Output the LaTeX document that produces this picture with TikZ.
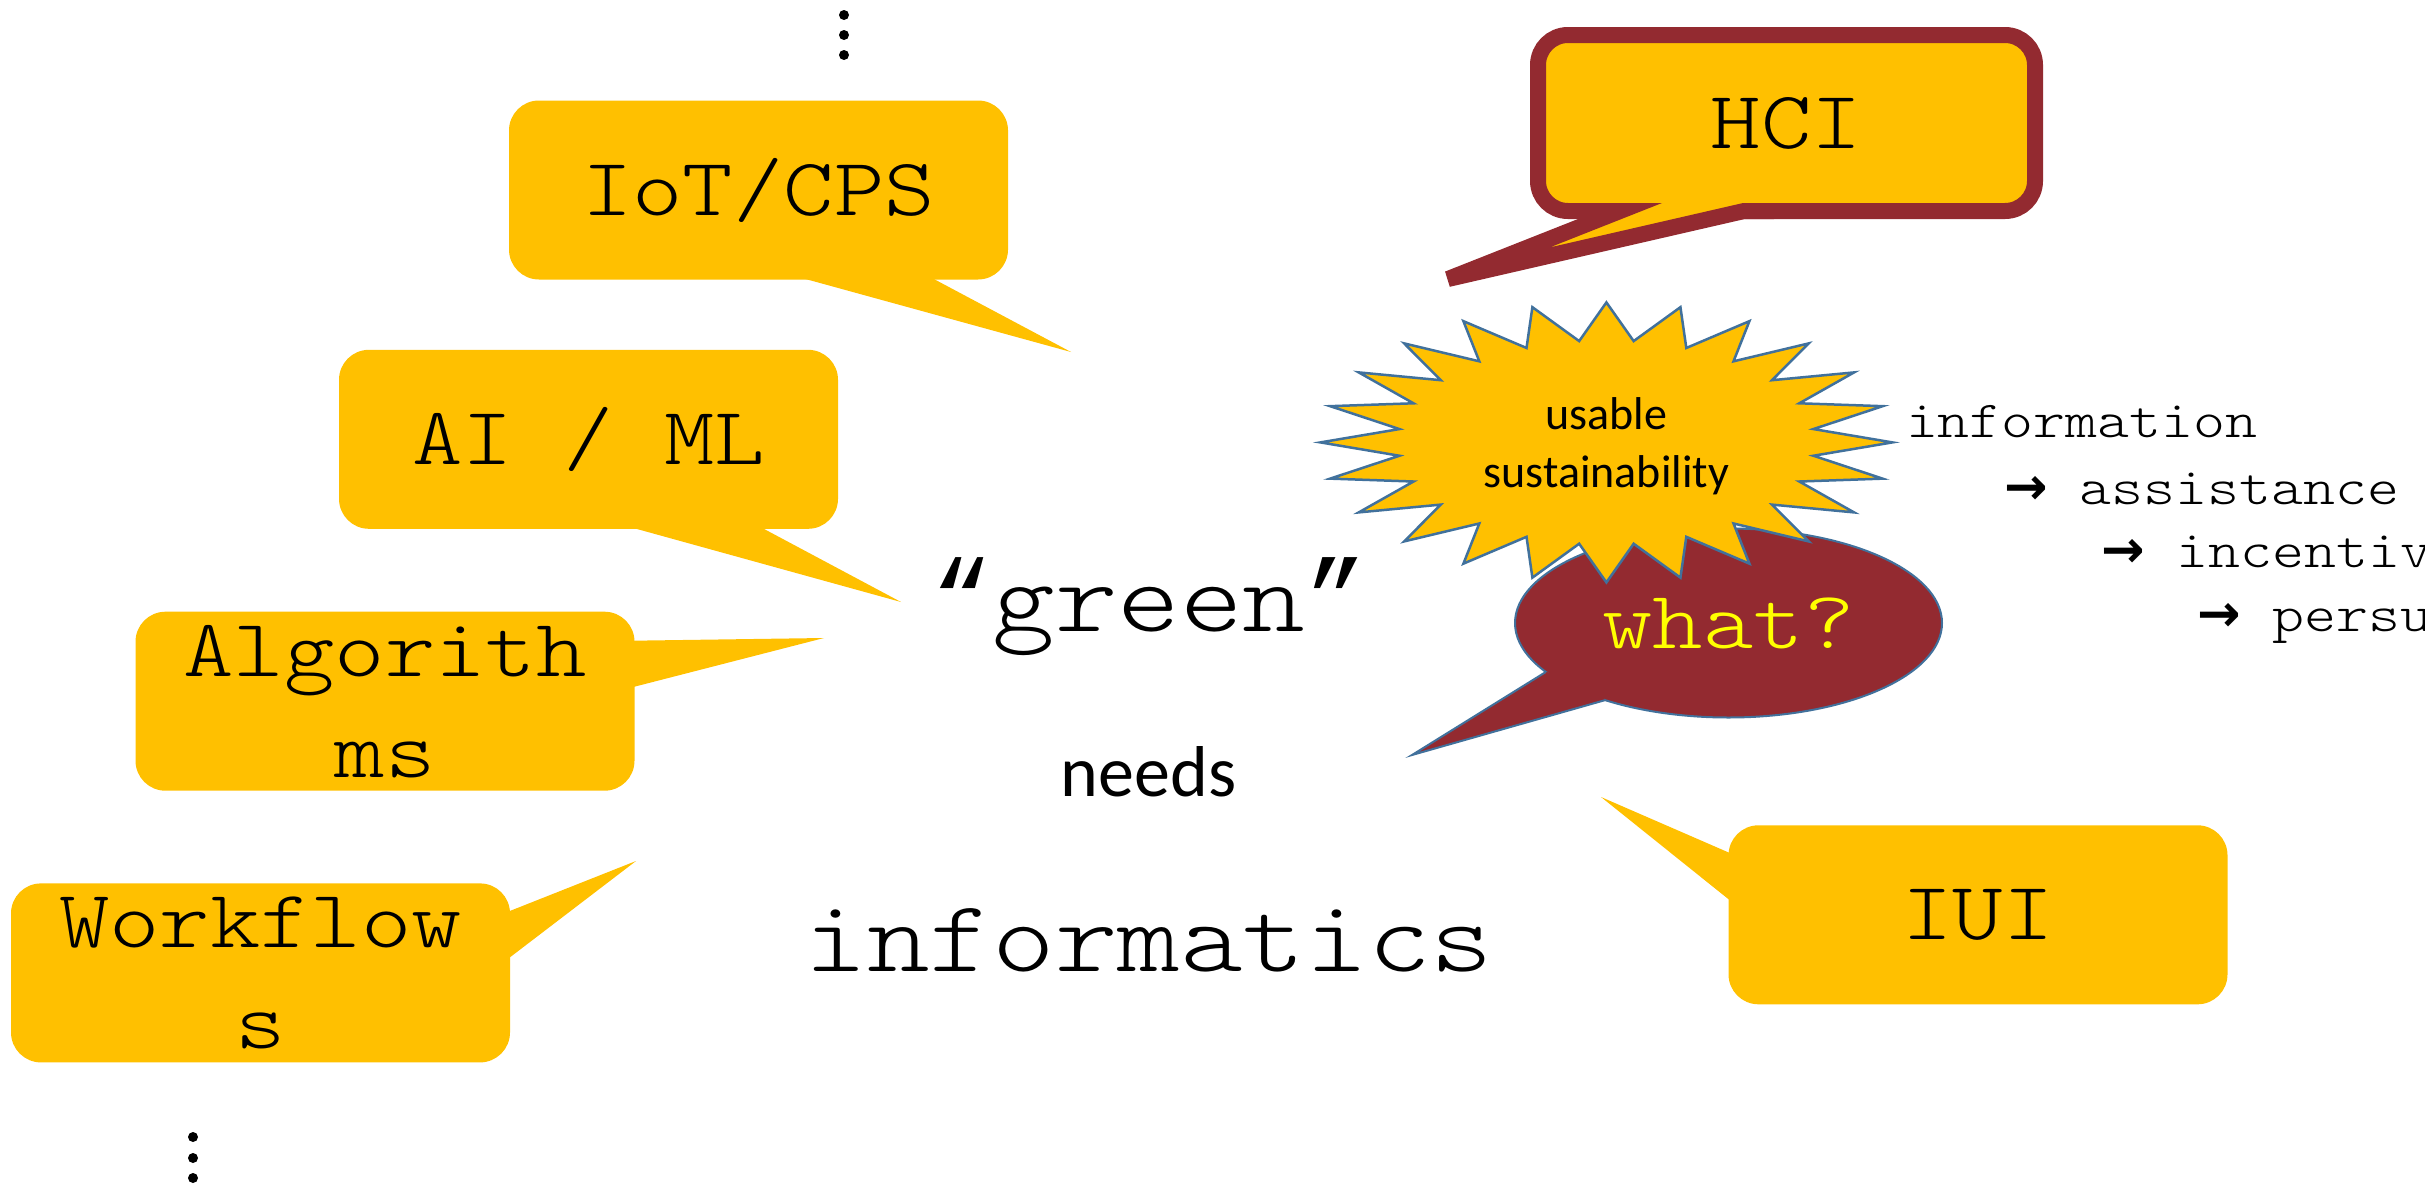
\documentclass[tikz,border=0pt]{standalone}
\usepackage{fontspec}
\usetikzlibrary{calc,shapes.geometric}
\newfontfamily\monof{lmmonolt10-regular.otf}[FakeStretch=1.17]
\newfontfamily\quotef{Liberation Mono}
\newfontfamily\calibf{Carlito}
\newfontfamily\arrowf{DejaVu Sans}
\definecolor{gold}{HTML}{FFC000}
\definecolor{wine}{HTML}{932A30}
\definecolor{edgeblue}{HTML}{41719C}
\definecolor{yel}{HTML}{FFFF00}
\begin{document}
\begin{tikzpicture}[x=1pt,y=-1pt,
  every node/.style={outer sep=0pt},
  bubble/.style={fill=gold, rounded corners=30pt, minimum width=499pt,
    minimum height=179pt, inner sep=0pt, align=center,
    font=\monof\fontsize{82}{101}\selectfont},
  hcibox/.style={bubble, draw=wine, line width=16pt, minimum width=497pt,
    minimum height=176pt},
  dotmark/.style={circle, fill=black, inner sep=0pt, minimum size=10pt},
  bigword/.style={font=\monof\fontsize{102}{120}\selectfont, anchor=base, inner sep=0pt},
  chain/.style={font=\monof\fontsize{52}{64}\selectfont, anchor=base west, inner sep=0pt},
]
\useasboundingbox (0,0) rectangle (2425,1186);
\clip (0,0) rectangle (2425,1186);

% vertical ellipsis marks
\node[dotmark] (ta) at (844,15) {};
\node[dotmark] (tb) at (844,35) {};
\node[dotmark] (tc) at (844,55) {};
\node[dotmark] (ba) at (193,1137) {};
\node[dotmark] (bb) at (193,1158) {};
\node[dotmark] (bc) at (193,1178) {};

% yellow speech bubbles on the left
\node[bubble] (iot) at (758.5,190) {IoT/CPS};
\coordinate (iottip) at (1071,352);
\fill[gold] ($(iot.south west)+(291,-2)$) -- (iottip) -- ($(iot.south west)+(422,-2)$) -- cycle;

\node[bubble] (aiml) at (588.5,439.3) {AI / ML};
\coordinate (aitip) at (901,602);
\fill[gold] ($(aiml.south west)+(290,-2)$) -- (aitip) -- ($(aiml.south west)+(421,-2)$) -- cycle;

\node[bubble] (algo) at (385,701.2) {Algorith\\ms};
\coordinate (algotip) at (824,638);
\fill[gold] ($(algo.north east)+(-2,29)$) -- (algotip) -- ($(algo.north east)+(-2,75.5)$) -- cycle;

\node[bubble] (wflow) at (260.5,972.9) {Workflow\\s};
\coordinate (wftip) at (636,861);
\fill[gold] ($(wflow.north east)+(-2,28.3)$) -- (wftip) -- ($(wflow.north east)+(-2,75.4)$) -- cycle;

% IUI bubble
\node[bubble] (iui) at (1978,914.8) {IUI};
\coordinate (iuitip) at (1601,797);
\fill[gold] ($(iui.north west)+(2,28)$) -- (iuitip) -- ($(iui.north west)+(2,75.5)$) -- cycle;

% HCI bubble with a thick wine frame; the tail shares the frame
\node[hcibox] (hci) at (1786.5,123) {HCI};
\coordinate (hcil) at ($(hci.south west)+(82,0)$);
\coordinate (hcir) at ($(hci.south west)+(206,0)$);
\coordinate (hcitip) at (1448,279);
\fill[gold] ($(hcil)+(0,-10)$) -- ($(hcir)+(0,-10)$) -- (hcir) -- (hcitip) -- (hcil) -- cycle;
\draw[wine, line width=16pt, line join=miter, miter limit=10]
  ($(hcil)+(-30,0)$) -- (hcil) -- (hcitip) -- (hcir) -- ($(hcir)+(30,0)$);

% "what?" oval callout
\node[ellipse, fill=wine, draw=edgeblue, line width=2pt, minimum width=427pt,
  minimum height=189pt, inner sep=0pt, text=yel,
  font=\monof\fontsize{82}{100}\selectfont] (what) at (1728.5,623) {what?};
\coordinate (whattip) at (1412,755);
\fill[wine] (what.195) -- (whattip) -- (what.212) -- ($(what.203)!20pt!(what.center)$) -- cycle;
\draw[edgeblue, line width=2pt, line join=miter] (what.195) -- (whattip) -- (what.212);

% 24-point burst
\coordinate (burst) at (1606.4,442.4);
\draw[fill=gold, draw=edgeblue, line width=2.5pt, line join=miter]
  ($(burst)+(0:286 and 140)$)
  \foreach \a in {0,15,...,330}{ -- ($(burst)+(\a+7.5:208.8 and 102.2)$) -- ($(burst)+(\a+15:286 and 140)$)}
  -- ($(burst)+(352.5:208.8 and 102.2)$) -- cycle;
\node[font=\calibf\fontsize{46}{57.5}\selectfont, align=center, inner sep=0pt]
  (usable) at ($(burst)+(0,4)$) {usable\\sustainability};

% central statement
\node[bigword] (green) at (1149,631) {{\quotef “}green{\quotef ”}};
\node[font=\calibf\fontsize{72}{86}\selectfont, anchor=base, inner sep=0pt] (needs) at (1148.5,796) {needs};
\node[bigword] (informatics) at (1149,971) {informatics};

% chain of steps on the right
\node[chain] (info) at (1906,437.6) {information};
\node[chain] (assist) at (2004,504.6) {{\arrowf\bfseries →} assistance};
\node[chain] (incent) at (2101,567) {{\arrowf\bfseries →} incentives};
\node[chain] (persu) at (2197,631) {{\arrowf\bfseries →} persuasion};
\end{tikzpicture}
\end{document}
